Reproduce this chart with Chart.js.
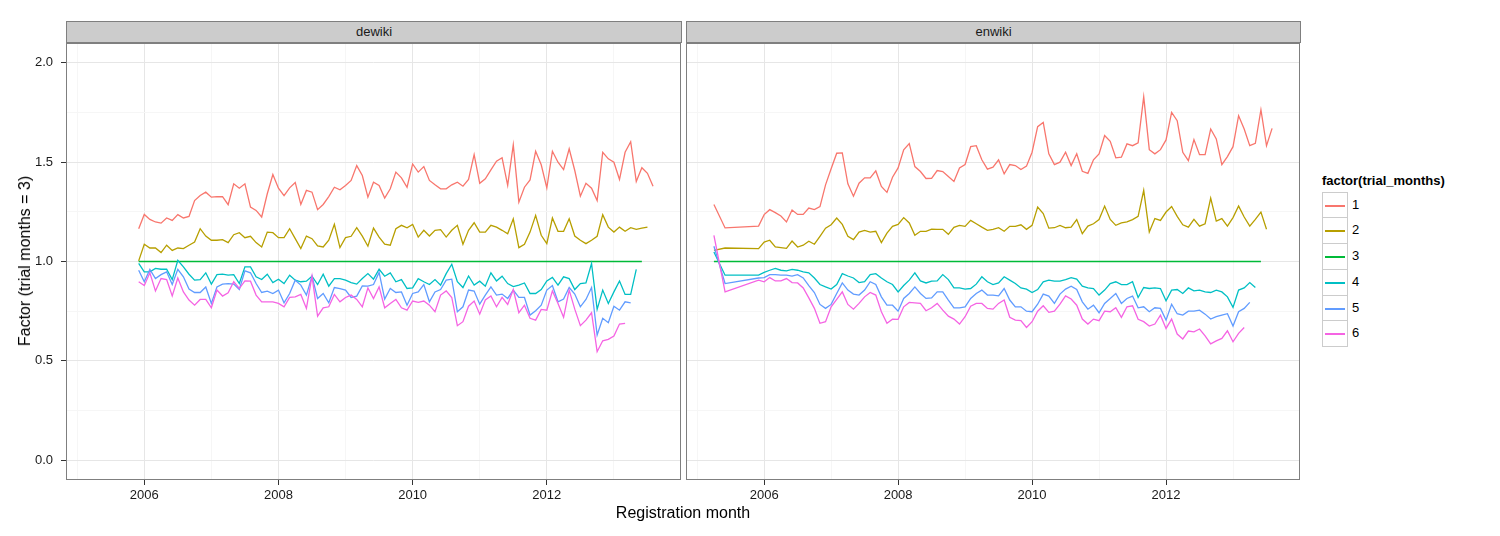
<!DOCTYPE html>
<html>
<head>
<meta charset="utf-8">
<title>Factor by registration month</title>
<script src="https://cdn.jsdelivr.net/npm/chart.js@4.4.1/dist/chart.umd.min.js"></script>
<style>
  body { margin: 0; background: #fff; font-family: "Liberation Sans", Arial, sans-serif; }
  #fig { position: relative; width: 1500px; height: 536px; overflow: hidden; }
  canvas { position: absolute; top: 0; }
  .strip { position: absolute; top: 21px; height: 22px; box-sizing: border-box; background: #cccccc;
           border: 1px solid #7f7f7f; font-size: 13px; color: #1a1a1a; text-align: center; line-height: 20px; }
  .ytitle { position: absolute; left: 25px; top: 261px; transform: translate(-50%, -50%) rotate(-90deg);
            white-space: nowrap; font-size: 16px; color: #000; }
  .xtitle { position: absolute; left: 683px; top: 513px; transform: translate(-50%, -50%);
            white-space: nowrap; font-size: 16px; color: #000; }
  .ltitle { position: absolute; left: 1322px; top: 173px; font-size: 13px; font-weight: bold; color: #000; }
  .lkey { position: absolute; left: 1322px; width: 26px; height: 27px; box-sizing: border-box;
          border: 1px solid #cccccc; background: #fff; }
  .lkey span { position: absolute; left: 2px; right: 2px; top: 12px; height: 2px; }
  .llab { position: absolute; left: 1352px; font-size: 13px; color: #000; line-height: 16px; }
</style>
</head>
<body>
<div id="fig">
  <canvas id="deChart" width="683" height="536" style="left:0px"></canvas>
  <canvas id="enChart" width="616" height="536" style="left:686px"></canvas>
  <div class="strip" style="left:66px; width:616px">dewiki</div>
  <div class="strip" style="left:686px; width:615px">enwiki</div>
  <div class="ytitle">Factor (trial months = 3)</div>
  <div class="xtitle">Registration month</div>
  <div class="ltitle">factor(trial_months)</div>
</div>
<script>
// facettes, groupes et couleurs
const facets = ['dewiki', 'enwiki'];
const groups = ['1', '2', '3', '4', '5', '6'];
const colours = ['#F8766D', '#B79F00', '#00BA38', '#00BFC4', '#619CFF', '#F564E3'];

// axes
const xTicks = [2005, 2006, 2007, 2008, 2009, 2010, 2011, 2012, 2013];
const xLabels = ['', '2006', '', '2008', '', '2010', '', '2012', ''];
const yTicks = [0, 0.25, 0.5, 0.75, 1, 1.25, 1.5, 1.75, 2];
const yLabels = ['0.0', '', '0.5', '', '1.0', '', '1.5', '', '2.0'];

// mois de départ (dewiki : mensuel depuis 2005-12 ; enwiki : 2005-04, 2005-06 puis mensuel)
const deStart = '2005-12';
const enFirst = ['2005-04', '2005-06'];
const enStart = '2005-12';

// dewiki
const de1 = [1.165, 1.237, 1.212, 1.199, 1.193, 1.219, 1.207, 1.236, 1.219, 1.227, 1.307, 1.332, 1.349, 1.324, 1.327, 1.326, 1.286, 1.391, 1.369, 1.391, 1.274, 1.257, 1.224, 1.341, 1.438, 1.369, 1.332, 1.371, 1.398, 1.287, 1.358, 1.349, 1.261, 1.287, 1.327, 1.374, 1.361, 1.383, 1.408, 1.483, 1.433, 1.324, 1.399, 1.383, 1.319, 1.366, 1.45, 1.421, 1.374,
  1.491, 1.45, 1.478, 1.408, 1.386, 1.366, 1.366, 1.386, 1.399, 1.379, 1.413, 1.538, 1.394, 1.416, 1.461, 1.505, 1.522, 1.383, 1.587, 1.299, 1.374, 1.411, 1.555, 1.487, 1.371, 1.555, 1.5, 1.463, 1.567, 1.458, 1.329, 1.394, 1.369, 1.307, 1.55, 1.517, 1.5, 1.413, 1.55, 1.603, 1.403, 1.472, 1.444, 1.379];
const de2 = [1.003, 1.087, 1.068, 1.068, 1.045, 1.082, 1.056, 1.068, 1.065, 1.082, 1.098, 1.165, 1.128, 1.107, 1.107, 1.110, 1.095, 1.135, 1.145, 1.120, 1.127, 1.095, 1.073, 1.148, 1.145, 1.12, 1.12, 1.165, 1.115, 1.065, 1.128, 1.115, 1.078, 1.073, 1.107, 1.187, 1.070, 1.12, 1.127, 1.170, 1.128, 1.077, 1.168, 1.123, 1.087, 1.082, 1.165, 1.182, 1.170,
  1.187, 1.123, 1.157, 1.128, 1.157, 1.160, 1.123, 1.157, 1.182, 1.087, 1.157, 1.195, 1.148, 1.148, 1.182, 1.173, 1.157, 1.140, 1.215, 1.070, 1.087, 1.148, 1.232, 1.132, 1.090, 1.219, 1.152, 1.152, 1.215, 1.128, 1.107, 1.090, 1.107, 1.127, 1.236, 1.173, 1.148, 1.173, 1.152, 1.170, 1.162, 1.168, 1.173];
const de3 = [
  1, 1, 1, 1, 1, 1, 1, 1, 1, 1,
  1, 1, 1, 1, 1, 1, 1, 1, 1, 1,
  1, 1, 1, 1, 1, 1, 1, 1, 1, 1,
  1, 1, 1, 1, 1, 1, 1, 1, 1, 1,
  1, 1, 1, 1, 1, 1, 1, 1, 1, 1,
  1, 1, 1, 1, 1, 1, 1, 1, 1, 1,
  1, 1, 1, 1, 1, 1, 1, 1, 1, 1,
  1, 1, 1, 1, 1, 1, 1, 1, 1, 1,
  1, 1, 1, 1, 1, 1, 1, 1, 1, 1,
  1];
const de4 = [0.990, 0.948, 0.948, 0.965, 0.961, 0.961, 0.909, 1.006, 0.973, 0.936, 0.906, 0.909, 0.943, 0.886, 0.934, 0.936, 0.931, 0.934, 0.889, 0.973, 0.973, 0.923, 0.909, 0.936, 0.894, 0.911, 0.889, 0.931, 0.906, 0.898, 0.901, 0.926, 0.884, 0.936, 0.876, 0.914, 0.914, 0.906, 0.894, 0.886, 0.914, 0.939, 0.911, 0.961, 0.926, 0.943, 0.898, 0.909, 0.864,
  0.867, 0.914, 0.898, 0.884, 0.909, 0.881, 0.939, 0.986, 0.898, 0.869, 0.927, 0.881, 0.901, 0.876, 0.943, 0.902, 0.926, 0.889, 0.874, 0.881, 0.892, 0.839, 0.839, 0.859, 0.902, 0.920, 0.881, 0.923, 0.914, 0.859, 0.889, 0.892, 0.990, 0.759, 0.856, 0.789, 0.847, 0.902, 0.834, 0.834, 0.960];
const de5 = [0.956, 0.898, 0.960, 0.914, 0.934, 0.948, 0.884, 0.961, 0.923, 0.861, 0.844, 0.844, 0.872, 0.789, 0.872, 0.886, 0.889, 0.886, 0.859, 0.953, 0.943, 0.889, 0.844, 0.851, 0.839, 0.856, 0.792, 0.839, 0.906, 0.881, 0.831, 0.926, 0.814, 0.839, 0.792, 0.869, 0.864, 0.856, 0.819, 0.826, 0.877, 0.876, 0.884, 0.945, 0.811, 0.864, 0.844, 0.847, 0.780,
  0.839, 0.847, 0.884, 0.797, 0.847, 0.859, 0.906, 0.911, 0.747, 0.772, 0.856, 0.851, 0.785, 0.831, 0.872, 0.831, 0.836, 0.814, 0.856, 0.819, 0.819, 0.730, 0.752, 0.780, 0.856, 0.879, 0.797, 0.811, 0.869, 0.836, 0.772, 0.809, 0.869, 0.630, 0.714, 0.692, 0.775, 0.755, 0.797, 0.792];
const de6 = [0.898, 0.879, 0.943, 0.852, 0.914, 0.909, 0.827, 0.917, 0.847, 0.806, 0.780, 0.809, 0.809, 0.767, 0.856, 0.826, 0.842, 0.898, 0.864, 0.902, 0.901, 0.831, 0.797, 0.797, 0.797, 0.789, 0.772, 0.819, 0.822, 0.834, 0.764, 0.926, 0.725, 0.767, 0.772, 0.834, 0.797, 0.819, 0.831, 0.809, 0.772, 0.867, 0.814, 0.872, 0.767, 0.789, 0.809, 0.767, 0.755,
  0.801, 0.794, 0.801, 0.780, 0.747, 0.831, 0.852, 0.819, 0.677, 0.697, 0.775, 0.801, 0.735, 0.806, 0.826, 0.772, 0.819, 0.784, 0.859, 0.742, 0.780, 0.714, 0.705, 0.759, 0.755, 0.852, 0.789, 0.719, 0.856, 0.760, 0.677, 0.705, 0.742, 0.546, 0.601, 0.608, 0.625, 0.685, 0.689];

// enwiki
const en1 = [1.287, 1.169, 1.178,
  1.236, 1.261, 1.246, 1.229, 1.199, 1.259, 1.237, 1.237, 1.269, 1.261, 1.276, 1.386, 1.467, 1.545, 1.547, 1.391, 1.329, 1.394, 1.421, 1.421, 1.456, 1.378, 1.348, 1.424, 1.471, 1.562, 1.594, 1.478, 1.453, 1.418, 1.419, 1.458, 1.453, 1.428, 1.403, 1.471, 1.488, 1.578, 1.583, 1.512, 1.465,
  1.475, 1.512, 1.441, 1.488, 1.483, 1.463, 1.480, 1.550, 1.679, 1.700, 1.542, 1.488, 1.500, 1.550, 1.483, 1.542, 1.454, 1.444, 1.512, 1.542, 1.634, 1.605, 1.522, 1.525, 1.592, 1.583, 1.597, 1.829, 1.563, 1.542, 1.563, 1.612, 1.751, 1.709, 1.550, 1.508, 1.614, 1.538, 1.538, 1.667, 1.617, 1.488, 1.528, 1.578, 1.734, 1.667, 1.583, 1.595, 1.764, 1.583, 1.670];
const en2 = [1.056, 1.068, 1.065,
  1.098, 1.107, 1.073, 1.070, 1.066, 1.103, 1.073, 1.082, 1.102, 1.087, 1.127, 1.168, 1.185, 1.219, 1.187, 1.127, 1.110, 1.148, 1.157, 1.148, 1.152, 1.095, 1.143, 1.177, 1.187, 1.221, 1.194, 1.132, 1.152, 1.152, 1.163, 1.162, 1.162, 1.137, 1.172, 1.182, 1.177, 1.207, 1.190, 1.173, 1.157,
  1.162, 1.170, 1.152, 1.177, 1.177, 1.185, 1.162, 1.182, 1.274, 1.241, 1.168, 1.170, 1.182, 1.170, 1.173, 1.211, 1.140, 1.178, 1.190, 1.211, 1.279, 1.212, 1.182, 1.194, 1.199, 1.211, 1.227, 1.358, 1.148, 1.216, 1.207, 1.249, 1.277, 1.227, 1.185, 1.173, 1.212, 1.178, 1.190, 1.319, 1.203, 1.216, 1.178, 1.221, 1.279, 1.224, 1.178, 1.212, 1.249, 1.162];
const en3 = [
  1, 1, 1, 1, 1, 1, 1, 1, 1, 1,
  1, 1, 1, 1, 1, 1, 1, 1, 1, 1,
  1, 1, 1, 1, 1, 1, 1, 1, 1, 1,
  1, 1, 1, 1, 1, 1, 1, 1, 1, 1,
  1, 1, 1, 1, 1, 1, 1, 1, 1, 1,
  1, 1, 1, 1, 1, 1, 1, 1, 1, 1,
  1, 1, 1, 1, 1, 1, 1, 1, 1, 1,
  1, 1, 1, 1, 1, 1, 1, 1, 1, 1,
  1, 1, 1, 1, 1, 1, 1, 1, 1, 1,
  1, 1, 1];
const en4 = [1.048, 0.931, 0.931,
  0.945, 0.956, 0.965, 0.956, 0.953, 0.960, 0.956, 0.948, 0.943, 0.917, 0.884, 0.872, 0.861, 0.884, 0.939, 0.927, 0.917, 0.894, 0.898, 0.934, 0.939, 0.917, 0.898, 0.884, 0.847, 0.879, 0.906, 0.943, 0.902, 0.892, 0.901, 0.902, 0.934, 0.909, 0.867, 0.867, 0.861, 0.864, 0.886, 0.923, 0.898,
  0.884, 0.892, 0.923, 0.906, 0.889, 0.867, 0.861, 0.844, 0.859, 0.898, 0.906, 0.901, 0.901, 0.909, 0.919, 0.911, 0.876, 0.867, 0.864, 0.831, 0.856, 0.889, 0.898, 0.884, 0.884, 0.898, 0.819, 0.869, 0.864, 0.867, 0.864, 0.802, 0.856, 0.859, 0.839, 0.867, 0.852, 0.856, 0.847, 0.844, 0.856, 0.847, 0.822, 0.769, 0.856, 0.867, 0.894, 0.869];
const en5 = [1.077, 0.889, 0.917,
  0.919, 0.934, 0.934, 0.931, 0.931, 0.926, 0.934, 0.917, 0.879, 0.844, 0.784, 0.764, 0.784, 0.839, 0.892, 0.856, 0.836, 0.831, 0.856, 0.898, 0.884, 0.822, 0.780, 0.780, 0.750, 0.814, 0.839, 0.872, 0.839, 0.814, 0.817, 0.847, 0.847, 0.806, 0.767, 0.767, 0.772, 0.814, 0.839, 0.856, 0.831,
  0.831, 0.827, 0.864, 0.806, 0.772, 0.772, 0.750, 0.747, 0.785, 0.836, 0.826, 0.789, 0.836, 0.861, 0.876, 0.859, 0.797, 0.760, 0.780, 0.742, 0.789, 0.814, 0.839, 0.789, 0.814, 0.826, 0.767, 0.772, 0.747, 0.767, 0.764, 0.705, 0.785, 0.737, 0.730, 0.750, 0.750, 0.755, 0.735, 0.710, 0.722, 0.730, 0.737, 0.675, 0.747, 0.764, 0.794];
const en6 = [1.132, 0.847, 0.906,
  0.898, 0.919, 0.902, 0.902, 0.914, 0.894, 0.892, 0.867, 0.817, 0.764, 0.689, 0.697, 0.772, 0.809, 0.847, 0.784, 0.760, 0.789, 0.822, 0.844, 0.831, 0.747, 0.689, 0.710, 0.709, 0.772, 0.794, 0.792, 0.789, 0.752, 0.767, 0.789, 0.755, 0.725, 0.710, 0.685, 0.722, 0.775, 0.789, 0.789, 0.764,
  0.760, 0.789, 0.806, 0.719, 0.705, 0.702, 0.668, 0.697, 0.750, 0.777, 0.744, 0.750, 0.785, 0.827, 0.811, 0.780, 0.710, 0.685, 0.710, 0.702, 0.750, 0.747, 0.767, 0.719, 0.772, 0.777, 0.709, 0.697, 0.675, 0.685, 0.730, 0.663, 0.710, 0.635, 0.610, 0.650, 0.646, 0.660, 0.626, 0.585, 0.600, 0.613, 0.651, 0.596, 0.638, 0.668];

const deSeries = [de1, de2, de3, de4, de5, de6];
const enSeries = [en1, en2, en3, en4, en5, en6];

// mois -> année décimale
function monthValue(s) {
    const [y, m] = s.split('-').map(Number);
    return y + (m - 1) / 12;
}
function monthsFrom(start, n) {
    let [y, m] = start.split('-').map(Number);
    const out = [];
    for (let i = 0; i < n; i++) {
        out.push(y + '-' + String(m).padStart(2, '0'));
        m++;
        if (m > 12) { m = 1; y++; }
    }
    return out;
}

const deMonths = monthsFrom(deStart, de1.length);
const enMonths = enFirst.concat(monthsFrom(enStart, en1.length - enFirst.length));

function buildDatasets(series, months) {
    return series.map((vals, i) => ({
        label: groups[i],
        data: vals.map((v, j) => ({ x: monthValue(months[j]), y: v })),
        borderColor: colours[i],
        backgroundColor: colours[i],
        borderWidth: 1.3,
        pointRadius: 0,
        tension: 0,
        fill: false,
        order: groups.length - i
    }));
}

Chart.defaults.font.family = '"Liberation Sans", Arial, sans-serif';
Chart.defaults.color = '#1a1a1a';

// cadre du panneau (gris 50)
const panelBorder = {
    id: 'panelBorder',
    afterDatasetsDraw(chart) {
        const { ctx, chartArea: a } = chart;
        ctx.save();
        ctx.strokeStyle = '#7f7f7f';
        ctx.lineWidth = 1;
        ctx.strokeRect(a.left + 0.5, a.top + 0.5, a.right - a.left - 1, a.bottom - a.top - 1);
        ctx.restore();
    }
};

function isMajorX(v) { return xLabels[xTicks.indexOf(v)] !== ''; }
function isMajorY(v) { return yLabels[yTicks.indexOf(v)] !== ''; }

function makeOptions(showY) {
    return {
        responsive: false,
        animation: false,
        layout: { padding: { left: 0, top: 43, right: 2, bottom: 0 } },
        plugins: { legend: { display: false }, tooltip: { enabled: false } },
        scales: {
            x: {
                type: 'linear',
                bounds: 'data',
                min: 2004.8333,
                max: 2014.0,
                afterBuildTicks: s => { s.ticks = xTicks.map(v => ({ value: v })); },
                afterFit: s => { s.height = 56; },
                border: { display: false },
                grid: {
                    color: c => isMajorX(c.tick.value) ? '#e6e6e6' : '#f6f6f6',
                    lineWidth: 1,
                    tickColor: c => isMajorX(c.tick.value) ? '#333333' : 'rgba(0,0,0,0)',
                    tickLength: 5,
                    tickWidth: 1
                },
                ticks: {
                    autoSkip: false,
                    maxRotation: 0,
                    minRotation: 0,
                    padding: 3,
                    font: { size: 13 },
                    color: '#1a1a1a',
                    callback: v => xLabels[xTicks.indexOf(v)]
                }
            },
            y: {
                type: 'linear',
                bounds: 'data',
                min: -0.1,
                max: 2.1,
                afterBuildTicks: s => { s.ticks = yTicks.map(v => ({ value: v })); },
                afterFit: s => { s.width = showY ? 66 : 0; },
                border: { display: false },
                grid: {
                    color: c => isMajorY(c.tick.value) ? '#e6e6e6' : '#f6f6f6',
                    lineWidth: 1,
                    drawTicks: showY,
                    tickColor: c => isMajorY(c.tick.value) ? '#333333' : 'rgba(0,0,0,0)',
                    tickLength: 5,
                    tickWidth: 1
                },
                ticks: {
                    display: showY,
                    padding: 8,
                    font: { size: 13 },
                    color: '#1a1a1a',
                    callback: v => yLabels[yTicks.indexOf(v)]
                }
            }
        }
    };
}

new Chart(document.getElementById('deChart'), {
    type: 'line',
    data: { datasets: buildDatasets(deSeries, deMonths) },
    options: makeOptions(true),
    plugins: [panelBorder]
});

new Chart(document.getElementById('enChart'), {
    type: 'line',
    data: { datasets: buildDatasets(enSeries, enMonths) },
    options: makeOptions(false),
    plugins: [panelBorder]
});

// légende
const fig = document.getElementById('fig');
groups.forEach((g, i) => {
    const top = Math.round(191.7 + i * 25.7);
    const key = document.createElement('div');
    key.className = 'lkey';
    key.style.top = top + 'px';
    const line = document.createElement('span');
    line.style.background = colours[i];
    key.appendChild(line);
    fig.appendChild(key);
    const lab = document.createElement('div');
    lab.className = 'llab';
    lab.style.top = (top + 5) + 'px';
    lab.textContent = g;
    fig.appendChild(lab);
});
</script>
</body>
</html>
